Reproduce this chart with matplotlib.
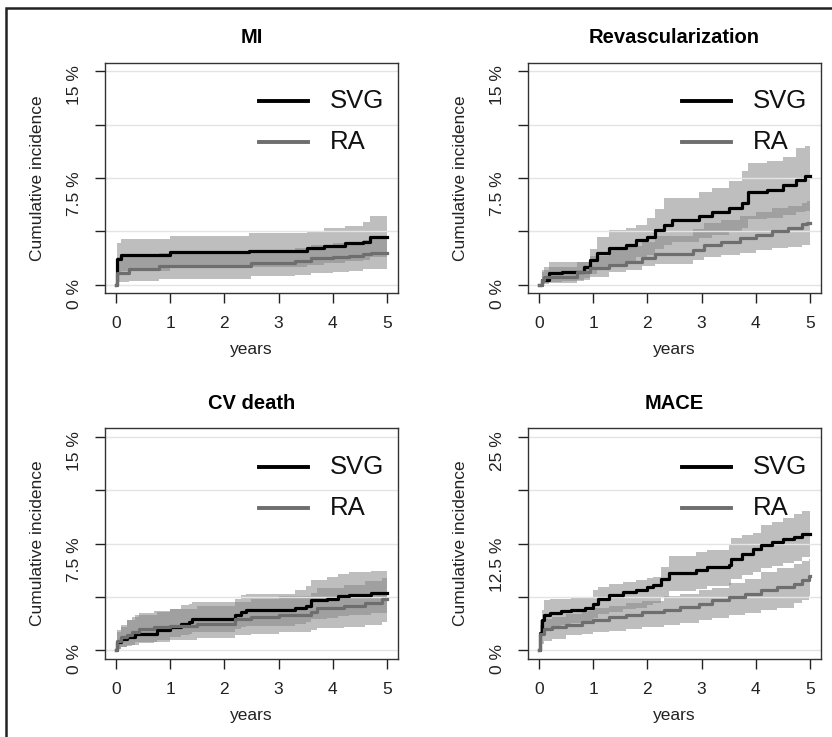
import matplotlib
matplotlib.use("Agg")
import matplotlib.pyplot as plt
import matplotlib.patches as mpatches

plt.rcParams['font.family'] = ['Liberation Sans', 'DejaVu Sans']

# ---- data: cumulative incidence (%) as step functions ----
# MI
MI_SVG_T = [0, 0.02, 0.10, 1.00, 2.46, 3.52, 3.83, 4.22, 4.55, 4.68, 5.0]
MI_SVG_EST = [0, 1.76, 2.10, 2.26, 2.37, 2.54, 2.72, 2.89, 3.00, 3.31, 3.31]
MI_SVG_LO = [0, 0.75, 0.95, 1.15, 1.25, 1.36, 1.50, 1.62, 1.75, 1.95, 1.95]
MI_SVG_HI = [0, 2.90, 3.17, 3.40, 3.60, 3.76, 3.97, 4.11, 4.39, 4.84, 4.84]
MI_RA_T = [0, 0.02, 0.25, 0.80, 2.50, 3.30, 3.60, 4.00, 4.30, 4.55, 4.70, 5.0]
MI_RA_EST = [0, 0.82, 1.06, 1.29, 1.48, 1.64, 1.83, 1.95, 2.00, 2.18, 2.25, 2.25]
MI_RA_LO = [0, 0.15, 0.23, 0.40, 0.59, 0.70, 0.78, 0.89, 0.95, 1.06, 1.06, 1.06]
MI_RA_HI = [0, 1.90, 2.05, 2.20, 2.40, 2.60, 2.80, 2.90, 3.00, 3.15, 3.25, 3.25]

# Revascularization
REV_SVG_T = [0, 0.05, 0.18, 0.43, 0.83, 0.95, 1.07, 1.30, 1.60, 1.80, 2.00, 2.15,
             2.30, 2.45, 2.95, 3.20, 3.50, 3.75, 3.85, 4.20, 4.50, 4.75, 4.90, 5.0]
REV_SVG_EST = [0, 0.35, 0.78, 0.89, 1.20, 1.70, 2.19, 2.54, 2.78, 3.13, 3.36, 3.84,
               4.20, 4.54, 4.82, 5.13, 5.36, 5.72, 6.54, 6.66, 7.00, 7.36, 7.60, 7.60]
REV_SVG_LO = [0, 0.05, 0.15, 0.25, 0.45, 0.75, 1.05, 1.35, 1.60, 1.90, 2.10, 2.50,
              2.75, 3.00, 3.25, 3.50, 3.70, 4.00, 4.60, 4.70, 4.90, 5.10, 5.20, 5.20]
REV_SVG_HI = [0, 1.00, 1.60, 1.60, 1.60, 2.50, 3.36, 3.84, 4.00, 4.20, 4.66, 5.30,
              6.07, 6.07, 6.50, 6.80, 7.30, 8.00, 8.54, 8.70, 9.00, 9.60, 9.76, 9.76]
REV_RA_T = [0, 0.05, 0.10, 0.70, 0.95, 1.30, 1.60, 1.90, 2.15, 2.85, 3.05, 3.35,
            3.70, 4.00, 4.30, 4.60, 4.85, 4.95, 5.0]
REV_RA_EST = [0, 0.30, 0.54, 0.89, 1.13, 1.36, 1.60, 1.84, 2.14, 2.42, 2.78, 3.01,
              3.25, 3.48, 3.76, 4.00, 4.24, 4.35, 4.35]
REV_RA_LO = [0, 0.05, 0.10, 0.35, 0.55, 0.85, 1.05, 1.30, 1.45, 1.75, 1.90, 2.10,
             2.25, 2.42, 2.55, 2.66, 2.75, 2.78, 2.78]
REV_RA_HI = [0, 0.90, 1.20, 1.60, 2.00, 2.40, 2.70, 3.00, 3.40, 3.90, 4.30, 4.55,
             4.80, 5.10, 5.35, 5.55, 5.75, 5.85, 5.85]

# CV death
CV_SVG_T = [0, 0.02, 0.10, 0.20, 0.35, 0.75, 1.00, 1.20, 1.35, 1.40, 2.20, 2.30,
            2.40, 3.30, 3.50, 3.60, 3.90, 4.10, 4.30, 4.70, 5.0]
CV_SVG_EST = [0, 0.56, 0.80, 0.96, 1.15, 1.44, 1.62, 1.86, 1.98, 2.21, 2.45, 2.68,
              2.80, 2.95, 3.10, 3.50, 3.62, 3.79, 3.90, 4.02, 4.02]
CV_SVG_LO = [0, 0.10, 0.25, 0.40, 0.55, 0.75, 0.90, 1.05, 1.15, 1.25, 1.50, 1.60,
             1.70, 1.85, 1.95, 2.20, 2.30, 2.40, 2.50, 2.60, 2.60]
CV_SVG_HI = [0, 1.27, 1.62, 2.10, 2.45, 2.70, 2.92, 3.15, 3.25, 3.40, 3.62, 3.86,
             3.98, 4.20, 4.50, 4.92, 5.15, 5.39, 5.50, 5.60, 5.60]
CV_RA_T = [0, 0.02, 0.10, 0.20, 0.30, 0.42, 0.70, 1.00, 1.50, 2.20, 2.50, 3.00,
           3.60, 3.70, 4.20, 4.60, 4.90, 5.0]
CV_RA_EST = [0, 0.68, 0.92, 1.10, 1.27, 1.50, 1.60, 1.70, 1.86, 2.20, 2.35, 2.50,
             2.70, 2.95, 3.10, 3.30, 3.60, 3.60]
CV_RA_LO = [0, 0.10, 0.20, 0.30, 0.40, 0.50, 0.60, 0.70, 0.85, 1.05, 1.15, 1.25,
            1.40, 1.55, 1.65, 1.80, 2.00, 2.00]
CV_RA_HI = [0, 1.40, 1.80, 2.10, 2.35, 2.60, 2.75, 2.90, 3.10, 3.40, 3.60, 3.80,
            4.00, 4.40, 4.60, 4.85, 5.05, 5.05]

# MACE
MACE_SVG_T = [0, 0.02, 0.05, 0.10, 0.20, 0.40, 0.60, 0.85, 1.00, 1.10, 1.30, 1.55,
              1.80, 2.00, 2.10, 2.25, 2.40, 2.90, 3.10, 3.50, 3.55, 3.75, 3.95, 4.10,
              4.30, 4.50, 4.70, 4.85, 5.0]
MACE_SVG_EST = [0, 2.00, 3.49, 4.08, 4.35, 4.60, 4.75, 5.00, 5.45, 6.04, 6.43, 6.82,
                7.10, 7.41, 7.60, 8.40, 9.06, 9.37, 9.76, 9.96, 10.75, 11.33, 11.90, 12.30,
                12.70, 13.00, 13.30, 13.60, 13.60]
MACE_SVG_LO = [0, 0.80, 1.80, 2.30, 2.60, 3.00, 3.20, 3.40, 3.80, 4.20, 4.50, 4.80,
               5.00, 5.30, 5.50, 6.20, 6.90, 7.20, 7.50, 7.70, 8.30, 8.80, 9.20, 9.60,
               9.90, 10.20, 10.50, 10.90, 10.90]
MACE_SVG_HI = [0, 3.50, 4.67, 5.84, 5.95, 6.04, 6.10, 6.24, 7.00, 7.40, 7.80, 8.00,
               8.20, 8.50, 8.60, 9.76, 11.10, 11.50, 11.70, 12.30, 13.10, 13.50, 13.70, 14.70,
               15.00, 15.45, 16.00, 16.30, 16.30]
MACE_RA_T = [0, 0.03, 0.10, 0.25, 0.50, 0.80, 1.00, 1.30, 1.60, 1.90, 2.30, 2.60,
             2.95, 3.20, 3.50, 3.80, 4.10, 4.40, 4.70, 4.85, 4.98, 5.0]
MACE_RA_EST = [0, 1.92, 2.50, 2.70, 3.00, 3.30, 3.57, 3.88, 4.16, 4.47, 4.75, 5.06,
               5.45, 5.84, 6.24, 6.63, 7.10, 7.41, 7.80, 8.20, 8.75, 8.75]
MACE_RA_LO = [0, 0.75, 1.10, 1.33, 1.73, 1.90, 2.10, 2.30, 2.50, 2.70, 2.90, 3.20,
              3.50, 3.80, 4.10, 4.40, 4.70, 5.00, 5.50, 5.84, 6.30, 6.30]
MACE_RA_HI = [0, 3.00, 3.60, 3.90, 4.30, 4.60, 4.90, 5.20, 5.50, 5.80, 6.30, 6.60,
              7.00, 7.30, 7.90, 8.40, 9.20, 9.60, 10.10, 10.40, 10.70, 10.70]

TITLES = ['MI', 'Revascularization', 'CV death', 'MACE']
YMAX = [15, 15, 15, 25]
YTICK_LABELS = [['0 %', '', '7.5 %', '', '15 %']] * 3 + [['0 %', '', '12.5 %', '', '25 %']]
GROUPS = ['SVG', 'RA']
XTICKS = [0, 1, 2, 3, 4, 5]

panels = [
    ((MI_SVG_T, MI_SVG_EST, MI_SVG_LO, MI_SVG_HI), (MI_RA_T, MI_RA_EST, MI_RA_LO, MI_RA_HI)),
    ((REV_SVG_T, REV_SVG_EST, REV_SVG_LO, REV_SVG_HI), (REV_RA_T, REV_RA_EST, REV_RA_LO, REV_RA_HI)),
    ((CV_SVG_T, CV_SVG_EST, CV_SVG_LO, CV_SVG_HI), (CV_RA_T, CV_RA_EST, CV_RA_LO, CV_RA_HI)),
    ((MACE_SVG_T, MACE_SVG_EST, MACE_SVG_LO, MACE_SVG_HI),
     (MACE_RA_T, MACE_RA_EST, MACE_RA_LO, MACE_RA_HI)),
]

line_colors = ['#000000', '#6e6e6e']
positions = [(0.1262, 0.6024), (0.6346, 0.6024), (0.1262, 0.1062), (0.6346, 0.1062)]

fig = plt.figure(figsize=(8.32, 7.37), dpi=100)

for i, (pos, title, ymax, ylabels, series) in enumerate(
        zip(positions, TITLES, YMAX, YTICK_LABELS, panels)):
    ax = fig.add_axes([pos[0], pos[1], 0.352, 0.3125])
    pad = ymax * 0.04
    ax.set_xlim(-0.2, 5.2)
    ax.set_ylim(-pad, ymax + pad)
    yt = [ymax * k / 4 for k in range(5)]

    # confidence bands (semi-transparent grey, overlap gets darker)
    for t, est, lo, hi in series:
        ax.fill_between(t, lo, hi, step='post', color='#878787', alpha=0.54, lw=0, zorder=1)
    for yv in yt:
        ax.axhline(yv, color='#e4e4e4', lw=1.0, zorder=1.5)
    for (t, est, lo, hi), col in zip(series, line_colors):
        ax.step(t, est, where='post', color=col, lw=2.3, zorder=2)

    # legend drawn by hand, no frame
    for j, (name, col) in enumerate(zip(GROUPS, line_colors)):
        yy = 0.833 - j * 0.177
        ax.plot([0.526, 0.693], [yy, yy], transform=ax.transAxes, color=col, lw=2.8)
        ax.text(0.768, yy, name, transform=ax.transAxes, va='center', ha='left',
                fontsize=18.5, color='#111111')

    ax.set_xticks(XTICKS)
    ax.set_yticks(yt)
    ax.set_yticklabels(ylabels)
    ax.tick_params(axis='both', direction='out', length=7.5, width=1.0, pad=9,
                   labelsize=12.5, colors='#222222')
    ax.tick_params(axis='y', labelrotation=90)
    for sp in ax.spines.values():
        sp.set_color('#333333')
        sp.set_linewidth(1.0)

    ax.set_title(title, fontsize=14.5, fontweight='bold', pad=14)
    ax.set_xlabel('years', fontsize=12.5, color='#222222')
    ax.set_ylabel('Cumulative incidence', fontsize=12.5, color='#222222')
    ax.xaxis.set_label_coords(0.5, -0.212)
    ax.yaxis.set_label_coords(-0.205, 0.5)

# outer frame of the figure
fig.patches.append(mpatches.Rectangle((6 / 832, -0.05), 1.1, 1 - 8 / 737 + 0.05,
                                      transform=fig.transFigure, fill=False,
                                      lw=1.8, ec='#222222'))

fig.savefig('out.png', dpi=100)
